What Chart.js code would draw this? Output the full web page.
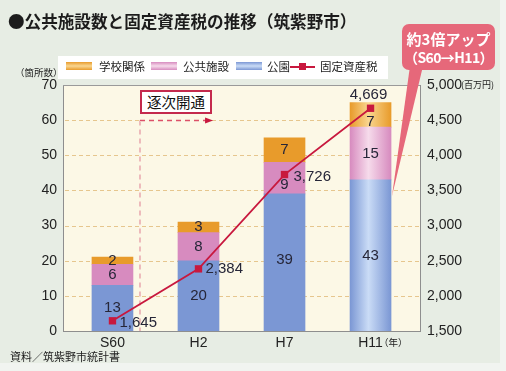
<!DOCTYPE html>
<html><head><meta charset="utf-8">
<script src="https://cdn.jsdelivr.net/npm/chart.js@4/dist/chart.umd.min.js"></script>
<style>
html,body{margin:0;padding:0;width:506px;height:371px;overflow:hidden;background:#f1f4f0;font-family:'Noto Sans CJK JP',sans-serif;}
#panel{position:absolute;left:0;top:0;width:500px;height:363px;background:#e7ede4;}
#cv{position:absolute;left:0;top:0;}
.t{position:absolute;white-space:nowrap;color:#1c1c1c;line-height:1;}
#legend{position:absolute;left:58px;top:56px;width:330px;height:23px;background:#fff;}
.sw{position:absolute;height:8px;width:26px;}
#svg{position:absolute;left:0;top:0;}
#kaitsu{position:absolute;left:140px;top:90px;width:68px;height:20px;border:2px solid #c42a4d;background:#fff;font-size:14.5px;line-height:20px;text-align:center;color:#111;}
</style></head>
<body>
<div id="panel"></div>
<canvas id="cv" width="506" height="371"></canvas>
<svg id="svg" width="506" height="371">
  <rect x="402" y="24" width="93" height="46" rx="7" ry="7" fill="#e6687a"/>
  <polygon points="410,66 423,66 392,196" fill="#e6687a"/>
</svg>
<div class="t" style="left:8px;top:13px;font-size:16.6px;font-weight:bold;">●公共施設数と固定資産税の推移（筑紫野市）</div>
<div id="legend"></div>
<div class="t" style="left:15px;top:68px;font-size:9.5px;">（箇所数）</div>
<div class="t" style="left:461px;top:80px;font-size:9px;">(百万円)</div>
<div class="t" style="left:379px;top:338px;font-size:9.5px;">（年）</div>
<div class="t" style="left:10px;top:351px;font-size:11px;">資料／筑紫野市統計書</div>
<div id="kaitsu">逐次開通</div>
<div class="t" style="left:402px;top:31px;width:93px;text-align:center;color:#fff;font-weight:bold;font-size:15px;">約3倍アップ</div>
<div class="t" style="left:402px;top:50px;width:93px;text-align:center;color:#fff;font-weight:bold;font-size:14px;letter-spacing:-0.6px;">（S60→H11）</div>
<script>
// ---- data ----
const categories = ['S60', 'H2', 'H7', 'H11'];
const parks = [13, 20, 39, 43];              // 公園
const publicFacilities = [6, 8, 9, 15];      // 公共施設
const schools = [2, 3, 7, 7];                // 学校関係
const propertyTax = [1645, 2384, 3726, 4669]; // 固定資産税（百万円）
const leftTicks = [0, 10, 20, 30, 40, 50, 60, 70];
const rightTicks = [1500, 2000, 2500, 3000, 3500, 4000, 4500, 5000];
const seriesNames = ['公園', '公共施設', '学校関係', '固定資産税'];

// ---- styles ----
const barColors = [
  {edge:'#7b97d4', mid:'#cadcf6'},
  {edge:'#d78bbf', mid:'#f6dbeb'},
  {edge:'#e89b2b', mid:'#f9d690'}
];
const lineColor = '#c8183e';
const FONT_NUM = "'Liberation Sans', Arial, sans-serif";

// legend (order as in picture: 学校関係, 公共施設, 公園, 固定資産税)
const legendEl = document.getElementById('legend');
const legendPos = [{sw:8, tx:41}, {sw:93, tx:125}, {sw:178, tx:209}, {sw:232, tx:262}];
[2,1,0,3].forEach((si, k) => {
  const p = legendPos[k];
  if (si < 3) {
    const s = document.createElement('div');
    s.className = 'sw';
    s.style.left = p.sw + 'px'; s.style.top = '6px';
    s.style.background = `linear-gradient(to bottom, ${barColors[si].edge}, ${barColors[si].mid} 50%, ${barColors[si].edge})`;
    legendEl.appendChild(s);
  } else {
    const l = document.createElement('div');
    l.style.cssText = `position:absolute;left:${p.sw}px;top:10px;width:25px;height:2px;background:${lineColor};`;
    legendEl.appendChild(l);
    const q = document.createElement('div');
    q.style.cssText = `position:absolute;left:${p.sw+9}px;top:7px;width:7px;height:7px;background:${lineColor};`;
    legendEl.appendChild(q);
  }
  const t = document.createElement('div');
  t.className = 't';
  t.style.left = p.tx + 'px'; t.style.top = '5px'; t.style.fontSize = '11.5px';
  t.textContent = seriesNames[si];
  legendEl.appendChild(t);
});

const toXY = arr => arr.map((v, i) => ({x: i, y: v}));

const plotBg = {
  id: 'plotBg',
  beforeDraw(chart) {
    const {ctx, chartArea: a} = chart;
    ctx.save(); ctx.fillStyle = '#fcf8e6';
    ctx.fillRect(a.left, a.top, a.right - a.left, a.bottom - a.top);
    ctx.restore();
  }
};

// dashed horizontal grid lines at the left axis ticks (inner ones)
const dashedGrid = {
  id: 'dashedGrid',
  beforeDatasetsDraw(chart) {
    const {ctx, chartArea: a, scales: {y}} = chart;
    ctx.save();
    ctx.strokeStyle = '#e6c68e'; ctx.lineWidth = 1; ctx.setLineDash([4, 3]);
    leftTicks.slice(1, -1).forEach(v => {
      const py = Math.round(y.getPixelForValue(v)) + 0.5;
      ctx.beginPath(); ctx.moveTo(a.left + 2, py); ctx.lineTo(a.right, py); ctx.stroke();
    });
    ctx.restore();
  }
};

const barGradient = {
  id: 'barGradient',
  beforeDatasetsDraw(chart) {
    const ctx = chart.ctx;
    chart.data.datasets.forEach((ds, di) => {
      if (ds.type === 'line') return;
      const c = barColors[di];
      chart.getDatasetMeta(di).data.forEach(el => {
        const w = el.width;
        const g = ctx.createLinearGradient(el.x - w/2, 0, el.x + w/2, 0);
        g.addColorStop(0, c.edge); g.addColorStop(0.45, c.mid); g.addColorStop(1, c.edge);
        el.options.backgroundColor = g;
      });
    });
  }
};

const annot = {
  id: 'annot',
  beforeDatasetsDraw(chart) {
    const {ctx, scales: {x, y}} = chart;
    const xa = x.getPixelForValue(0.32), xb = x.getPixelForValue(1.1);
    const ya = Math.round(y.getPixelForValue(60)) + 0.5, yb = y.getPixelForValue(0);
    ctx.save();
    ctx.lineWidth = 1.3;
    ctx.setLineDash([5, 4]);
    ctx.strokeStyle = '#e59aa5';
    ctx.beginPath(); ctx.moveTo(xa, ya); ctx.lineTo(xa, yb); ctx.stroke();
    ctx.fillStyle = '#fcf8e6';
    ctx.fillRect(xa, ya - 1.5, xb - xa, 3);
    ctx.strokeStyle = '#dc5068';
    ctx.beginPath(); ctx.moveTo(xa, ya); ctx.lineTo(xb, ya); ctx.stroke();
    ctx.setLineDash([]);
    ctx.fillStyle = lineColor;
    ctx.beginPath(); ctx.moveTo(xb - 2, ya - 3); ctx.lineTo(xb + 6, ya); ctx.lineTo(xb - 2, ya + 3); ctx.closePath(); ctx.fill();
    ctx.restore();
  }
};

const barLabelShift = {'0-2': -3, '1-2': 7, '2-3': 7};
const pointLabelPos = [
  {dx: 7, dy: 2, align: 'left'},
  {dx: 7, dy: 0, align: 'left'},
  {dx: 9, dy: 2, align: 'left'},
  {dx: -2, dy: -13, align: 'center'}
];

const labels = {
  id: 'labels',
  afterDatasetsDraw(chart) {
    const {ctx, chartArea: a} = chart;
    ctx.save();
    ctx.strokeStyle = '#9a9a9a'; ctx.lineWidth = 1;
    ctx.beginPath(); ctx.moveTo(a.left, a.top + 0.5); ctx.lineTo(a.right, a.top + 0.5); ctx.stroke();
    ctx.font = '15px ' + FONT_NUM;
    ctx.fillStyle = '#262638';
    ctx.textBaseline = 'middle';
    chart.data.datasets.forEach((ds, di) => {
      const meta = chart.getDatasetMeta(di);
      if (ds.type === 'line') {
        meta.data.forEach((el, i) => {
          const p = pointLabelPos[i];
          ctx.textAlign = p.align;
          ctx.fillText(ds.data[i].y.toLocaleString('en-US'), el.x + p.dx, el.y + p.dy);
        });
      } else {
        ctx.textAlign = 'center';
        meta.data.forEach((el, i) => {
          const cy = (el.y + el.base) / 2 + (barLabelShift[di + '-' + i] || 0);
          ctx.fillText(String(ds.data[i].y), el.x, cy);
        });
      }
    });
    ctx.restore();
  }
};

Chart.defaults.font.family = FONT_NUM;
Chart.defaults.color = '#222';

new Chart(document.getElementById('cv'), {
  type: 'bar',
  data: {
    datasets: [
      {label: seriesNames[0], data: toXY(parks), order: 2, barThickness: 41, borderWidth: 0},
      {label: seriesNames[1], data: toXY(publicFacilities), order: 2, barThickness: 41, borderWidth: 0},
      {label: seriesNames[2], data: toXY(schools), order: 2, barThickness: 41, borderWidth: 0},
      {label: seriesNames[3], type: 'line', data: toXY(propertyTax), yAxisID: 'y1', order: 0,
       borderColor: lineColor, borderWidth: 1.8, pointStyle: 'rect', pointRadius: 5.2,
       pointBackgroundColor: lineColor, pointBorderWidth: 0, tension: 0}
    ]
  },
  options: {
    responsive: false, animation: false, events: [],
    layout: {padding: {top: 85, left: 0, right: 0, bottom: 0}},
    plugins: {legend: {display: false}, tooltip: {enabled: false}},
    scales: {
      x: {
        type: 'linear', stacked: true, offset: false, min: -0.575, max: 3.575,
        afterBuildTicks: s => { s.ticks = categories.map((c, i) => ({value: i})); },
        afterFit: s => { s.height = 40; },
        ticks: {callback: v => categories[v] ?? '', font: {size: 14}, padding: 4, autoSkip: false, maxRotation: 0, color: '#222'},
        grid: {display: false, drawTicks: false, offset: false},
        border: {display: true, color: '#8e8e8e', width: 1}
      },
      y: {
        stacked: true, min: 0, max: 70, position: 'left',
        afterBuildTicks: s => { s.ticks = leftTicks.map(v => ({value: v})); },
        afterFit: s => { s.width = 63; },
        ticks: {font: {size: 14}, padding: 6, color: '#222'},
        grid: {display: false, drawTicks: false},
        border: {display: true, color: '#8e8e8e', width: 1}
      },
      y1: {
        min: 1500, max: 5000, position: 'right',
        afterBuildTicks: s => { s.ticks = rightTicks.map(v => ({value: v})); },
        afterFit: s => { s.width = 86; },
        ticks: {font: {size: 14}, padding: 7, color: '#222', callback: v => v.toLocaleString('en-US')},
        grid: {display: false, drawTicks: false},
        border: {display: true, color: '#8e8e8e', width: 1}
      }
    }
  },
  plugins: [plotBg, dashedGrid, barGradient, annot, labels]
});
</script>
</body></html>
